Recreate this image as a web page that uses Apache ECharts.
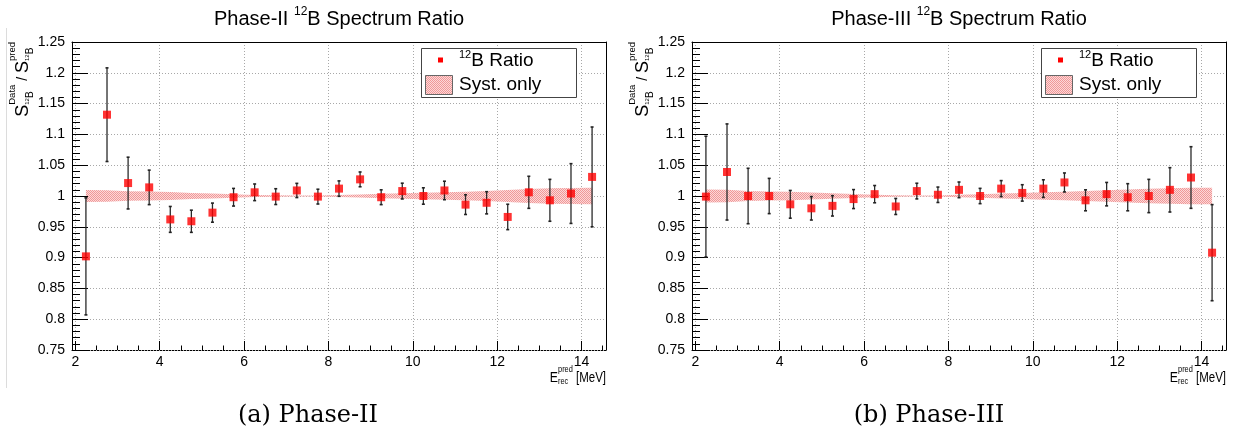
<!DOCTYPE html>
<html><head><meta charset="utf-8">
<script src="https://cdn.jsdelivr.net/npm/echarts@6/dist/echarts.min.js"></script>
<style>html,body{margin:0;padding:0;background:#fff}#c{width:1237px;height:438px}</style>
</head><body><div id="c"></div>
<script>
// ---------------- data ----------------
const energies = [2.25, 2.75, 3.25, 3.75, 4.25, 4.75, 5.25, 5.75, 6.25, 6.75, 7.25, 7.75, 8.25, 8.75, 9.25, 9.75, 10.25, 10.75, 11.25, 11.75, 12.25, 12.75, 13.25, 13.75, 14.25];

const phase2Ratio = [0.902, 1.132, 1.021, 1.014, 0.962, 0.959, 0.973, 0.998, 1.006, 0.999, 1.009, 0.999, 1.012, 1.027, 0.998, 1.008, 1.000, 1.009, 0.986, 0.989, 0.966, 1.006, 0.993, 1.004, 1.031];
const phase2Err   = [0.095, 0.076, 0.042, 0.028, 0.021, 0.018, 0.0155, 0.0143, 0.0135, 0.0128, 0.0115, 0.012, 0.0125, 0.012, 0.012, 0.0128, 0.0133, 0.015, 0.016, 0.018, 0.0206, 0.026, 0.034, 0.0485, 0.081];
const phase2Syst  = [0.0098, 0.0092, 0.0078, 0.0072, 0.0065, 0.0050, 0.0040, 0.0027, 0.0017, 0.0011, 0.0007, 0.0008, 0.0015, 0.0025, 0.0035, 0.0045, 0.0052, 0.0060, 0.0068, 0.0080, 0.0098, 0.0115, 0.0125, 0.0130, 0.0135];

const phase3Ratio = [0.999, 1.039, 1.000, 1.000, 0.9865, 0.980, 0.984, 0.995, 1.003, 0.983, 1.008, 1.002, 1.010, 1.000, 1.012, 1.005, 1.012, 1.022, 0.993, 1.003, 0.998, 1.000, 1.010, 1.030, 0.908];
const phase3Err   = [0.098, 0.078, 0.045, 0.0286, 0.0225, 0.019, 0.0165, 0.0154, 0.014, 0.013, 0.0127, 0.0125, 0.0127, 0.0124, 0.013, 0.0133, 0.0143, 0.0154, 0.017, 0.019, 0.022, 0.027, 0.036, 0.050, 0.078];
const phase3Syst  = [0.0105, 0.0100, 0.0080, 0.0075, 0.0068, 0.0058, 0.0045, 0.0033, 0.0022, 0.0012, 0.0008, 0.0008, 0.0020, 0.0030, 0.0040, 0.0050, 0.0060, 0.0070, 0.0080, 0.0092, 0.0105, 0.0118, 0.0127, 0.0132, 0.0135];

const xMajorTicks = [2, 4, 6, 8, 10, 12, 14];
const xMinorTicks = [2.5, 3, 3.5, 4.5, 5, 5.5, 6.5, 7, 7.5, 8.5, 9, 9.5, 10.5, 11, 11.5, 12.5, 13, 13.5, 14.5];
const xRange = [1.92, 14.58];
const yRange = [0.75, 1.25];
const yInterval = 0.05;

const titles = ['Phase-II', 'Phase-III'];
const captions = ['(a) Phase-II', '(b) Phase-III'];

// ---------------- helpers ----------------
const FAM = '"Liberation Sans", Arial, Helvetica, sans-serif';
const SERIF = '"DejaVu Serif", "Liberation Serif", serif';
const mctx = document.createElement('canvas').getContext('2d');
function tw(t, s, fam) { mctx.font = s + 'px ' + (fam || FAM); return mctx.measureText(t).width; }
function txt(t, x, y, s, fam, align) {
  return { type: 'text', x: x, y: y, silent: true, z: 20,
    style: { text: t, fontSize: s, fontFamily: fam || FAM, fill: '#000', align: align || 'left', verticalAlign: 'middle' } };
}
function buildLine(parts, fam) {
  let x = 0; const els = [];
  parts.forEach(p => {
    if (p.stack) {
      let w = 0;
      p.stack.forEach(q => {
        let qx = x;
        (q.pieces || [q]).forEach(r => { els.push(txt(r.t, qx, r.dy, r.s, fam)); qx += tw(r.t, r.s, fam); });
        w = Math.max(w, qx - x);
      });
      x += w;
    } else {
      els.push(txt(p.t, x, p.dy || 0, p.s, fam));
      x += tw(p.t, p.s, fam);
    }
  });
  return { els: els, width: x };
}

// hatch pattern (fine checker, light pink)
const pat = document.createElement('canvas');
pat.width = 2; pat.height = 2;
(function () {
  const c = pat.getContext('2d');
  c.fillStyle = '#fcd8d8'; c.fillRect(0, 0, 2, 2);
  c.fillStyle = '#f09898'; c.fillRect(0, 0, 1, 1); c.fillRect(1, 1, 1, 1);
})();
const bandFill = { image: pat, repeat: 'repeat' };

// ---------------- layout ----------------
const panels = [
  { off: 0, ratio: phase2Ratio, err: phase2Err, syst: phase2Syst },
  { off: 620, ratio: phase3Ratio, err: phase3Err, syst: phase3Syst }
];
const G = { left: 72, top: 42, width: 534, height: 308 };

const grids = [], xAxes = [], yAxes = [], series = [], graphics = [];
const gridLine = { show: true, lineStyle: { color: '#a8a8a8', width: 1, type: [1, 2] } };

panels.forEach((p, k) => {
  grids.push({ left: G.left + p.off, top: G.top, width: G.width, height: G.height, containLabel: false });
  const xi = xAxes.length, yi = yAxes.length;
  xAxes.push({
    gridIndex: k, type: 'value', min: xRange[0], max: xRange[1], position: 'bottom', z: 1,
    axisLine: { show: true, onZero: false, lineStyle: { color: '#000', width: 1 } },
    axisTick: { show: true, inside: true, length: 9, customValues: xMajorTicks, lineStyle: { color: '#000' } },
    axisLabel: { show: true, customValues: xMajorTicks, color: '#000', fontSize: 14, fontFamily: FAM, margin: 5 },
    splitLine: gridLine
  });
  xAxes.push({
    gridIndex: k, type: 'value', min: xRange[0], max: xRange[1], position: 'bottom', z: 1,
    axisLine: { show: false, onZero: false },
    axisTick: { show: true, inside: true, length: 4.5, customValues: xMinorTicks, lineStyle: { color: '#000' } },
    axisLabel: { show: false }, splitLine: { show: false }
  });
  xAxes.push({
    gridIndex: k, type: 'value', min: xRange[0], max: xRange[1], position: 'top', z: 3,
    axisLine: { show: true, onZero: false, lineStyle: { color: '#000', width: 1 } },
    axisTick: { show: false }, axisLabel: { show: false }, splitLine: { show: false }
  });
  yAxes.push({
    gridIndex: k, type: 'value', min: yRange[0], max: yRange[1], interval: yInterval, position: 'left', z: 2,
    axisLine: { show: true, onZero: false, lineStyle: { color: '#000', width: 1 } },
    axisTick: { show: true, inside: true, length: 16, lineStyle: { color: '#000' } },
    minorTick: { show: true, splitNumber: 5, length: 8, lineStyle: { color: '#000' } },
    axisLabel: { color: '#000', fontSize: 14, fontFamily: FAM, margin: 7 },
    splitLine: gridLine
  });
  yAxes.push({
    gridIndex: k, type: 'value', min: yRange[0], max: yRange[1], interval: yInterval, position: 'right', z: 3,
    axisLine: { show: true, onZero: false, lineStyle: { color: '#000', width: 1 } },
    axisTick: { show: false }, axisLabel: { show: false }, splitLine: { show: false }
  });

  // syst band: one polygon through the bin centres
  const bandData = energies.map((x, i) => [x, 1 - p.syst[i], 1 + p.syst[i]]);
  series.push({
    type: 'custom', xAxisIndex: xi, yAxisIndex: yi, z: 2, silent: true,
    encode: { x: 0, y: [1, 2] },
    data: bandData,
    renderItem: function (params, api) {
      if (params.dataIndex !== 0) return null;
      const up = [], lo = [];
      bandData.forEach(d => { up.push(api.coord([d[0], d[2]])); lo.push(api.coord([d[0], d[1]])); });
      return { type: 'polygon', shape: { points: up.concat(lo.reverse()) }, style: { fill: bandFill } };
    }
  });
  // error bars
  series.push({
    type: 'custom', xAxisIndex: xi, yAxisIndex: yi, z: 3, silent: true,
    encode: { x: 0, y: 1 },
    data: energies.map((x, i) => [x, p.ratio[i], p.err[i]]),
    renderItem: function (params, api) {
      const x = api.value(0), y = api.value(1), e = api.value(2);
      const t = api.coord([x, y + e]), b = api.coord([x, y - e]);
      const cap = { stroke: '#222', lineWidth: 1.6 };
      return { type: 'group', children: [
        { type: 'line', shape: { x1: t[0], y1: t[1], x2: b[0], y2: b[1] }, style: { stroke: '#2a2a2a', lineWidth: 1.3 } },
        { type: 'line', shape: { x1: t[0] - 1.5, y1: t[1], x2: t[0] + 1.5, y2: t[1] }, style: cap },
        { type: 'line', shape: { x1: b[0] - 1.5, y1: b[1], x2: b[0] + 1.5, y2: b[1] }, style: cap }
      ] };
    }
  });
  // markers
  series.push({
    type: 'scatter', xAxisIndex: xi, yAxisIndex: yi, z: 4, symbol: 'rect', symbolSize: 8, silent: true,
    itemStyle: { color: '#ff0000' },
    data: energies.map((x, i) => [x, p.ratio[i]])
  });

  // ---- texts ----
  const o = p.off;
  const tl = buildLine([{ t: titles[k] + ' ', s: 20, dy: 0 }, { t: '12', s: 12, dy: -7 }, { t: 'B Spectrum Ratio', s: 20, dy: 0 }]);
  graphics.push({ type: 'group', x: G.left + o + G.width / 2 - tl.width / 2, y: 19, children: tl.els });

  const yl = buildLine([
    { t: 'S', s: 18, dy: 0 },
    { stack: [{ t: 'Data', s: 9.5, dy: -11 }, { pieces: [{ t: '12', s: 6, dy: 4 }, { t: 'B', s: 10, dy: 7 }] }] },
    { t: ' / ', s: 14, dy: 0 },
    { t: 'S', s: 18, dy: 0 },
    { stack: [{ t: 'pred', s: 9.5, dy: -11 }, { pieces: [{ t: '12', s: 6, dy: 4 }, { t: 'B', s: 10, dy: 7 }] }] }
  ]);
  graphics.push({ type: 'group', x: 23 + o, y: 42 + yl.width, rotation: Math.PI / 2, children: yl.els });

  const xl = buildLine([
    { t: 'E', s: 15, dy: 0 },
    { stack: [{ t: 'pred', s: 9, dy: -8 }, { t: 'rec', s: 9, dy: 3.5 }] },
    { t: ' [MeV]', s: 14, dy: 0 }
  ]);
  const sx = 0.82;
  graphics.push({ type: 'group', x: 606 + o - xl.width * sx, y: 378, scaleX: sx, children: xl.els });

  // legend
  const lx = 421 + o, ly = 48;
  graphics.push({ type: 'rect', shape: { x: lx + 0.5, y: ly + 0.5, width: 155, height: 49 }, style: { fill: '#fff', stroke: '#444', lineWidth: 1 }, z: 10, silent: true });
  graphics.push({ type: 'rect', shape: { x: lx + 17, y: 57.5, width: 5, height: 5 }, style: { fill: '#ff0000' }, z: 11, silent: true });
  const l1 = buildLine([{ t: '12', s: 11, dy: -6 }, { t: 'B Ratio', s: 19, dy: 0 }]);
  graphics.push({ type: 'group', x: lx + 38, y: 61, children: l1.els });
  graphics.push({ type: 'rect', shape: { x: lx + 4.5, y: 75.5, width: 27, height: 19 }, style: { fill: bandFill, stroke: '#666', lineWidth: 1 }, z: 11, silent: true });
  graphics.push({ type: 'group', x: lx + 38, y: 84.5, children: [txt('Syst. only', 0, 0, 19)] });

  graphics.push(txt(captions[k], (k === 0 ? 308 : 929), 416, 24, SERIF, 'center'));
});

graphics.push({ type: 'line', shape: { x1: 6.5, y1: 28, x2: 6.5, y2: 388 }, style: { stroke: '#dcdcdc', lineWidth: 1 }, silent: true });

const chart = echarts.init(document.getElementById('c'), null, { renderer: 'canvas' });
chart.setOption({
  animation: false,
  backgroundColor: '#fff',
  textStyle: { fontFamily: FAM },
  grid: grids, xAxis: xAxes, yAxis: yAxes, series: series,
  graphic: { elements: graphics }
});
</script></body></html>
